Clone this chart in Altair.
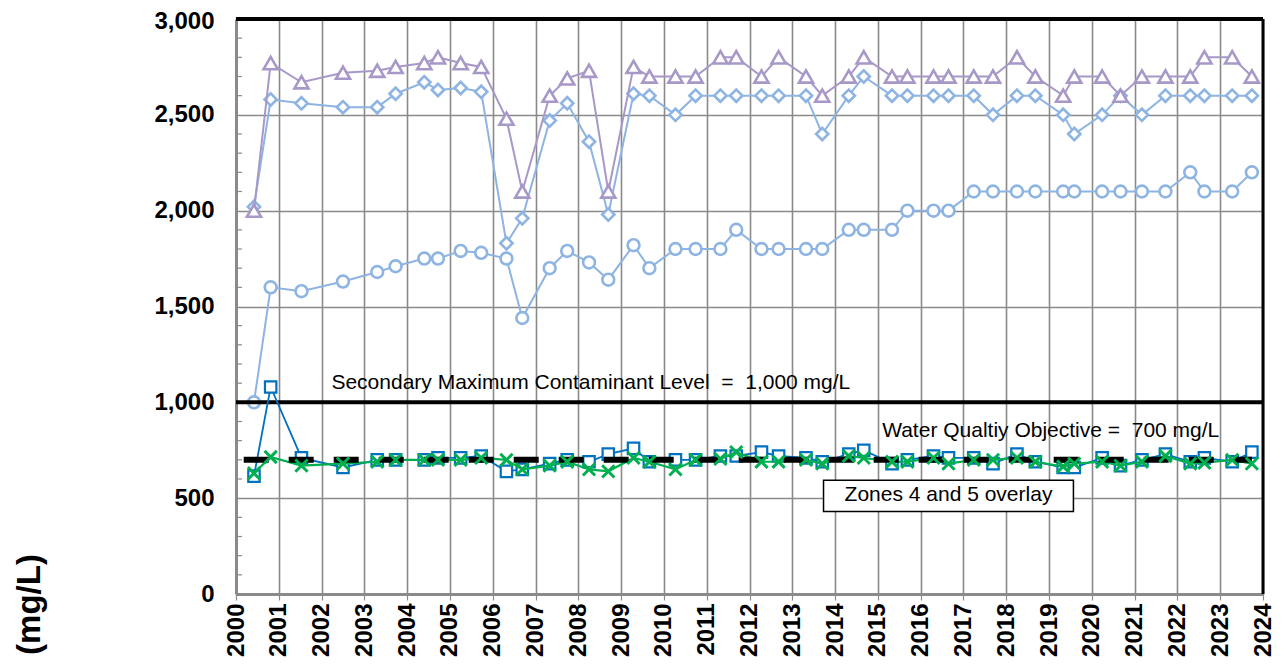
import altair as alt
import pandas as pd

# ---------------- data ----------------
dates = [2000.42, 2000.81, 2001.53, 2002.50, 2003.30, 2003.73, 2004.40, 2004.72,
         2005.25, 2005.73, 2006.32, 2006.69, 2007.33, 2007.74, 2008.25, 2008.70,
         2009.29, 2009.66, 2010.27, 2010.74, 2011.32, 2011.69, 2012.28, 2012.68,
         2013.32, 2013.70, 2014.32, 2014.67, 2015.33, 2015.69, 2016.30, 2016.65,
         2017.24, 2017.69, 2018.25, 2018.68, 2019.33, 2019.59, 2020.24, 2020.67,
         2021.17, 2021.72, 2022.30, 2022.63, 2023.28, 2023.74]

tds_triangle = [2000, 2770, 2670, 2720, 2730, 2750, 2770, 2800, 2770, 2750, 2480, 2100,
                2600, 2690, 2730, 2100, 2750, 2700, 2700, 2700, 2800, 2800, 2700, 2800,
                2700, 2600, 2700, 2800, 2700, 2700, 2700, 2700, 2700, 2700, 2800, 2700,
                2600, 2700, 2700, 2600, 2700, 2700, 2700, 2800, 2800, 2700]

tds_diamond = [2020, 2580, 2560, 2540, 2540, 2610, 2670, 2630, 2640, 2620, 1830, 1960,
               2470, 2560, 2360, 1980, 2610, 2600, 2500, 2600, 2600, 2600, 2600, 2600,
               2600, 2400, 2600, 2700, 2600, 2600, 2600, 2600, 2600, 2500, 2600, 2600,
               2500, 2400, 2500, 2600, 2500, 2600, 2600, 2600, 2600, 2600]

tds_circle = [1000, 1600, 1580, 1630, 1680, 1710, 1750, 1750, 1790, 1780, 1750, 1440,
              1700, 1790, 1730, 1640, 1820, 1700, 1800, 1800, 1800, 1900, 1800, 1800,
              1800, 1800, 1900, 1900, 1900, 2000, 2000, 2000, 2100, 2100, 2100, 2100,
              2100, 2100, 2100, 2100, 2100, 2100, 2200, 2100, 2100, 2200]

tds_square = [615, 1080, 710, 660, 700, 700, 700, 710, 710, 720, 640, 650,
              680, 700, 690, 730, 760, 690, 700, 700, 720, 720, 740, 720,
              710, 690, 730, 750, 680, 700, 720, 710, 710, 680, 730, 690,
              660, 660, 710, 670, 700, 730, 690, 710, 690, 740]

tds_cross = [630, 715, 670, 680, 690, 700, 700, 700, 700, 710, 700, 650,
             670, 690, 650, 640, 710, 690, 650, 700, 705, 740, 690, 690,
             700, 680, 720, 710, 690, 690, 710, 680, 700, 700, 710, 690,
             665, 680, 690, 670, 690, 720, 680, 685, 700, 680]

smcl_value = 1000
wqo_value = 700
wqo_span = [2000.18, 2023.74]
year_ticks = list(range(2000, 2025))
y_ticks = list(range(0, 3001, 500))
y_minor = [v for v in range(100, 3000, 100) if v % 500 != 0]

W, H = 1027, 575
FONT = "Liberation Sans"
NB = "\u00a0"

x_scale = alt.Scale(domain=[2000, 2024], nice=False, zero=False)
y_scale = alt.Scale(domain=[0, 3000], nice=False)

x_axis = alt.Axis(values=year_ticks, format="d", labelAngle=270, labelAlign="right",
                  labelBaseline="middle", labelFont=FONT, labelFontWeight="bold",
                  labelFontSize=24, labelColor="black", labelPadding=3,
                  grid=True, gridColor="#8a8a8a", gridWidth=1.6,
                  domainColor="#8a8a8a", domainWidth=3, tickColor="#8a8a8a",
                  tickSize=6, tickWidth=1.2, title=None, labelOverlap=False)
y_axis = alt.Axis(values=y_ticks, format=",d", labelFont=FONT, labelFontWeight="bold",
                  labelFontSize=24, labelColor="black", labelPadding=22, tickSize=0,
                  labelOffset=alt.ExprRef(expr="datum.value == 3000 ? 2 : 0"),
                  grid=True, gridColor="#8a8a8a", gridWidth=1.6,
                  domainColor="#8a8a8a", domainWidth=3,
                  title="(mg/L)", titleFont=FONT, titleFontWeight="bold", titleFontSize=33,
                  titleColor="black", titleAngle=270, titleX=-207, titleY=585,
                  titleAlign="center", titleBaseline="middle")

X = alt.X("date:Q", scale=x_scale, axis=x_axis)
Y = alt.Y("tds:Q", scale=y_scale, axis=y_axis)


def series(vals, shape, color, size, sw, lw, fill="white"):
    df = pd.DataFrame({"date": dates, "tds": vals})
    base = alt.Chart(df).encode(x=X, y=Y)
    line = base.mark_line(color=color, strokeWidth=lw)
    if fill is None:
        pts = base.mark_point(shape=shape, size=size, filled=False, stroke=color,
                              strokeWidth=sw, opacity=1)
    else:
        pts = base.mark_point(shape=shape, size=size, filled=True, fill=fill,
                              stroke=color, strokeWidth=sw, opacity=1)
    return line, pts


PURPLE = "#A898C8"
LBLUE = "#8DB4E2"
DBLUE = "#0070C0"
GREEN = "#00B050"

layers = []

# minor ticks on the y axis
minor_df = pd.DataFrame({"tds": y_minor})
layers.append(alt.Chart(minor_df).mark_rule(color="#8a8a8a", strokeWidth=1.2).encode(
    y=Y, x=alt.value(0), x2=alt.value(6)))

layers += list(series(tds_circle, "circle", LBLUE, 140, 2.6, 2))
layers += list(series(tds_diamond, "diamond", LBLUE, 150, 2.6, 2))
layers += list(series(tds_triangle, "triangle-up", PURPLE, 200, 2.6, 2))

# SMCL line
smcl_df = pd.DataFrame({"date": [2000, 2024], "tds": [smcl_value, smcl_value]})
layers.append(alt.Chart(smcl_df).mark_line(color="black", strokeWidth=4).encode(x=X, y=Y))

layers += list(series(tds_square, "square", DBLUE, 130, 2.2, 1.8))

green_line, green_pts = series(tds_cross, "M-1,-1L1,1M-1,1L1,-1", GREEN, 150, 3, 2.2, fill=None)
layers.append(green_line)

# WQO dashed line
wqo_df = pd.DataFrame({"date": wqo_span, "tds": [wqo_value, wqo_value]})
layers.append(alt.Chart(wqo_df).mark_line(color="black", strokeWidth=6, strokeDash=[25, 20],
                                          strokeCap="butt").encode(x=X, y=Y))
layers.append(green_pts)

# frame (top and right borders)
frame_df = pd.DataFrame({"k": [0]})
layers.append(alt.Chart(frame_df).mark_rule(color="black", strokeWidth=4).encode(
    x=alt.value(0), x2=alt.value(W), y=alt.value(0)))
layers.append(alt.Chart(frame_df).mark_rule(color="black", strokeWidth=3).encode(
    x=alt.value(W), y=alt.value(0), y2=alt.value(H)))

# annotations
box_df = pd.DataFrame({"date": [2013.73], "date2": [2019.57], "tds": [593], "tds2": [431]})
layers.append(alt.Chart(box_df).mark_rect(fill="white", stroke="black", strokeWidth=1.5).encode(
    x=X, x2="date2:Q", y=Y, y2="tds2:Q"))

label_df = pd.DataFrame({
    "date": [2002.23, 2015.10],
    "tds": [1099, 849],
    "text": ["Secondary Maximum Contaminant Level " + NB + "= " + NB + "1,000 mg/L",
             "Water Qualtiy Objective = " + NB + "700 mg/L"],
})
layers.append(alt.Chart(label_df).mark_text(align="left", baseline="middle", font=FONT,
                                            fontSize=21, color="black").encode(
    x=X, y=Y, text="text:N"))

zone_df = pd.DataFrame({"date": [2016.65], "tds": [514], "text": ["Zones 4 and 5 overlay"]})
layers.append(alt.Chart(zone_df).mark_text(align="center", baseline="middle", font=FONT,
                                           fontSize=21, color="black").encode(
    x=X, y=Y, text="text:N"))

chart = alt.layer(*layers).properties(
    width=W, height=H,
    autosize=alt.AutoSizeParams(type="none"),
    padding={"left": 228, "top": 11, "right": 15, "bottom": 76},
).configure_view(stroke=None).configure(background="white")

chart.save("out.html", embed_options={"renderer": "svg", "actions": False})
